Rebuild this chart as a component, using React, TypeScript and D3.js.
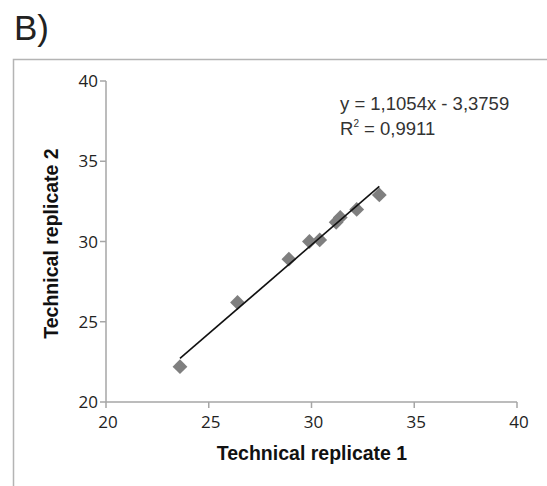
import React from 'react';
import * as d3 from 'd3';

const rep1 = [23.6, 26.4, 28.9, 29.9, 30.4, 31.2, 31.4, 32.2, 33.3];
const rep2 = [22.2, 26.2, 28.9, 30.0, 30.1, 31.2, 31.5, 32.0, 32.9];
const xTicks = [20, 25, 30, 35, 40];
const yTicks = [20, 25, 30, 35, 40];
const slope = 1.1054;
const intercept = -3.3759;
const equationText = 'y = 1,1054x - 3,3759';
const r2Text = '0,9911';

const W = 547;
const H = 486;
const font = '"Liberation Sans", Arial, sans-serif';
const tickFont = '"Open Sans", "Liberation Sans", sans-serif';

const App = () => {
  const x = d3.scaleLinear().domain([20, 40]).range([106, 517]);
  const y = d3.scaleLinear().domain([20, 40]).range([402, 81]);
  const axisColor = '#a6a6a6';

  const xMin = d3.min(rep1) as number;
  const xMax = d3.max(rep1) as number;
  const trend = d3.line<number>()
    .x(d => x(d))
    .y(d => y(slope * d + intercept));

  const diamond = d3.symbol().type(d3.symbolDiamond2).size(140)();

  return (
    <svg width={W} height={H} style={{ position: 'absolute', left: 0, top: 0, background: '#fff' }}>
      <text x={14} y={40} fontFamily={font} fontSize={35} fill="#222">B)</text>
      {/* outer frame */}
      <path d={`M13.5,${H} V59.5 H${W}`} fill="none" stroke="#b4b4b4" strokeWidth={1.5} />

      {/* y axis */}
      <line x1={x(20)} x2={x(20)} y1={y(40)} y2={y(20)} stroke={axisColor} strokeWidth={1.5} />
      {yTicks.map(t => (
        <g key={'y' + t}>
          <line x1={x(20) - 6} x2={x(20)} y1={y(t)} y2={y(t)} stroke={axisColor} strokeWidth={1.5} />
          <text x={x(20) - 8} y={y(t) + 6} textAnchor="end" fontFamily={tickFont} fontSize={17} fill="#222">{t}</text>
        </g>
      ))}
      {/* x axis */}
      <line x1={x(20)} x2={x(40)} y1={y(20)} y2={y(20)} stroke={axisColor} strokeWidth={1.5} />
      {xTicks.map(t => (
        <g key={'x' + t}>
          <line x1={x(t)} x2={x(t)} y1={y(20)} y2={y(20) + 6} stroke={axisColor} strokeWidth={1.5} />
          <text x={x(t) + 2} y={y(20) + 26} textAnchor="middle" fontFamily={tickFont} fontSize={17} fill="#222">{t}</text>
        </g>
      ))}

      {/* points */}
      {rep1.map((v, i) => (
        <path key={'p' + i} d={diamond as string} transform={`translate(${x(v)},${y(rep2[i])})`} fill="#7f7f7f" />
      ))}
      {/* trendline */}
      <path d={trend([xMin, xMax]) as string} fill="none" stroke="#111" strokeWidth={1.6} />

      {/* equation */}
      <text x={340} y={110} fontFamily={font} fontSize={18.5} fill="#333">{equationText}</text>
      <text x={340} y={135} fontFamily={font} fontSize={18.5} fill="#333">
        R<tspan fontSize={10} dy={-8}>2</tspan><tspan dy={8}> = {r2Text}</tspan>
      </text>

      {/* axis titles */}
      <text x={312} y={460} textAnchor="middle" fontFamily={font} fontSize={19.5} fontWeight="bold" fill="#111">Technical replicate 1</text>
      <text transform={`translate(58,${(y(20) + y(40)) / 2 + 2}) rotate(-90)`} textAnchor="middle" fontFamily={font} fontSize={19.5} fontWeight="bold" fill="#111">Technical replicate 2</text>
    </svg>
  );
};

export default App;
